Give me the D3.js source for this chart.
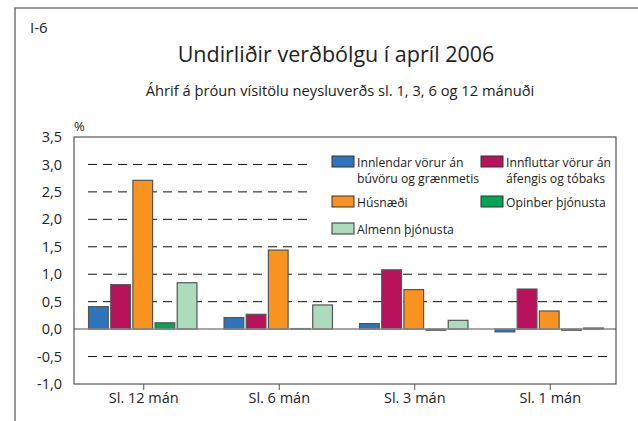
<!DOCTYPE html>
<html lang="is">
  <head>
    <meta charset="utf-8">
    <script src="https://cdn.jsdelivr.net/npm/d3@7/dist/d3.min.js"></script>
    <style>
      body { margin: 0; background: #fff; }
      svg { display: block; font-family: "Open Sans", sans-serif; }
    </style>
  </head>
  <body>
    <svg id="chart"></svg>
  </body>
  <script>
    // data
    var categories = ["Sl. 12 mán", "Sl. 6 mán", "Sl. 3 mán", "Sl. 1 mán"];
    var seriesNames = ["Innlendar vörur án búvöru og grænmetis", "Innfluttar vörur án áfengis og tóbaks",
                       "Húsnæði", "Opinber þjónusta", "Almenn þjónusta"];
    var innlendar = [0.41, 0.21, 0.10, -0.05];
    var innfluttar = [0.81, 0.27, 1.08, 0.73];
    var husnaedi = [2.71, 1.44, 0.72, 0.33];
    var opinber = [0.115, 0.01, -0.02, -0.02];
    var almenn = [0.845, 0.44, 0.16, 0.02];
    var yTicks = [-1.0, -0.5, 0.0, 0.5, 1.0, 1.5, 2.0, 2.5, 3.0, 3.5];

    var colors = ["#2e74bb", "#b8125c", "#f7931e", "#00a651", "#acdcbc"];
    var seriesValues = [innlendar, innfluttar, husnaedi, opinber, almenn];

    var width = 638, height = 421;
    var svg = d3.select("#chart").attr("width", width).attr("height", height);

    var plot = {left: 74, right: 616, top: 137, bottom: 384};

    // frame (top + left only)
    svg.append("path")
      .attr("d", "M15," + height + "V8H" + width)
      .attr("fill", "none")
      .attr("stroke", "#777")
      .attr("stroke-width", 1.5);

    svg.append("text").attr("x", 30).attr("y", 33)
      .attr("font-size", 15).attr("fill", "#222").text("I-6");

    svg.append("text").attr("x", 336).attr("y", 62)
      .attr("text-anchor", "middle").attr("font-size", 21.5).attr("fill", "#222")
      .text("Undirliðir verðbólgu í apríl 2006");

    svg.append("text").attr("x", 340).attr("y", 96)
      .attr("text-anchor", "middle").attr("font-size", 14.7).attr("fill", "#222")
      .text("Áhrif á þróun vísitölu neysluverðs sl. 1, 3, 6 og 12 mánuði");

    svg.append("text").attr("x", 74).attr("y", 131)
      .attr("font-size", 13).attr("fill", "#222").text("%");

    // scales
    var y = d3.scaleLinear().domain([-1, 3.5]).range([plot.bottom, plot.top]);
    var x0 = d3.scaleBand().domain(categories).range([plot.left, plot.right]);
    var pad = x0.bandwidth() * 0.1;
    var x1 = d3.scaleBand().domain(d3.range(seriesNames.length))
      .range([pad + 1, x0.bandwidth() - pad + 1]).paddingInner(0.11);

    // grid lines (upper ones stop before the legend)
    var gridTicks = yTicks.filter(function(t){ return t !== 0 && t !== 3.5 && t !== -1; });
    svg.append("g").selectAll("line").data(gridTicks).enter()
      .append("line")
      .attr("x1", plot.left + 14)
      .attr("x2", function(d){ return d >= 2 ? 307 : plot.right - 4; })
      .attr("y1", function(d){ return y(d); })
      .attr("y2", function(d){ return y(d); })
      .attr("stroke", "#111")
      .attr("stroke-width", 1)
      .attr("stroke-dasharray", "9,6");

    // bars
    var groups = svg.append("g").selectAll("g").data(categories).enter()
      .append("g")
      .attr("transform", function(d){ return "translate(" + x0(d) + ",0)"; });

    groups.selectAll("rect")
      .data(function(d, i){
        return seriesValues.map(function(s, k){ return {k: k, v: s[i]}; });
      })
      .enter().append("rect")
      .attr("x", function(d){ return x1(d.k); })
      .attr("width", x1.bandwidth())
      .attr("y", function(d){ return y(Math.max(0, d.v)); })
      .attr("height", function(d){ return Math.abs(y(d.v) - y(0)); })
      .attr("fill", function(d){ return colors[d.k]; })
      .attr("stroke", "#555")
      .attr("stroke-width", 1.2);

    // zero line
    svg.append("line")
      .attr("x1", plot.left).attr("x2", plot.right)
      .attr("y1", y(0)).attr("y2", y(0))
      .attr("stroke", "#888").attr("stroke-width", 1.5);

    // plot box
    svg.append("rect")
      .attr("x", plot.left).attr("y", plot.top)
      .attr("width", plot.right - plot.left).attr("height", plot.bottom - plot.top)
      .attr("fill", "none").attr("stroke", "#333").attr("stroke-width", 1);

    // y axis
    var yAxis = d3.axisLeft(y).tickValues(yTicks).tickSize(0).tickPadding(12)
      .tickFormat(function(d){ return d3.format(".1f")(d).replace(".", ",").replace("−", "-"); });
    var gy = svg.append("g").attr("transform", "translate(" + plot.left + ",0)").call(yAxis);
    gy.select(".domain").remove();
    gy.selectAll("text").attr("font-size", 14.5).attr("font-family", "Open Sans, sans-serif").attr("fill", "#222");

    // x axis
    var xAxis = d3.axisBottom(x0).tickSize(6).tickPadding(3);
    var gx = svg.append("g").attr("transform", "translate(2," + plot.bottom + ")").call(xAxis);
    gx.select(".domain").remove();
    gx.selectAll("line").attr("stroke", "#555");
    gx.selectAll("text").attr("font-size", 14.5).attr("font-family", "Open Sans, sans-serif").attr("fill", "#222");

    // legend
    var legend = [
      {k: 0, x: 332, y: 156, lines: ["Innlendar vörur án", "búvöru og grænmetis"]},
      {k: 1, x: 481, y: 156, lines: ["Innfluttar vörur án", "áfengis og tóbaks"]},
      {k: 2, x: 332, y: 196, lines: ["Húsnæði"]},
      {k: 3, x: 481, y: 196, lines: ["Opinber þjónusta"]},
      {k: 4, x: 332, y: 223, lines: ["Almenn þjónusta"]}
    ];
    var lg = svg.append("g").selectAll("g").data(legend).enter().append("g");
    lg.append("rect")
      .attr("x", function(d){ return d.x; })
      .attr("y", function(d){ return d.y; })
      .attr("width", 22).attr("height", 11)
      .attr("fill", function(d){ return colors[d.k]; })
      .attr("stroke", "#333").attr("stroke-width", 1);
    lg.each(function(d){
      var t = d3.select(this).append("text")
        .attr("font-size", 12.2).attr("fill", "#222");
      d.lines.forEach(function(l, i){
        t.append("tspan")
          .attr("x", d.x + 25)
          .attr("y", d.y + 10.5 + i * 16)
          .text(l);
      });
    });
  </script>
</html>
